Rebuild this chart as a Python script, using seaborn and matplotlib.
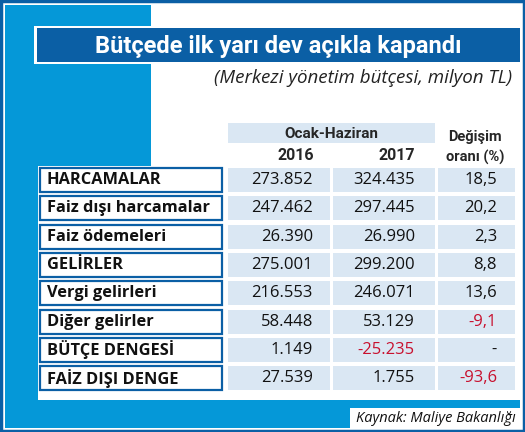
import matplotlib
matplotlib.use("Agg")
import matplotlib.pyplot as plt
import matplotlib.patches as mpatches
import seaborn as sns

title = "Bütçede ilk yarı dev açıkla kapandı"
subtitle = "(Merkezi yönetim bütçesi, milyon TL)"
source = "Kaynak: Maliye Bakanlığı"
row_labels = ["HARCAMALAR", "Faiz dışı harcamalar", "Faiz ödemeleri", "GELİRLER",
              "Vergi gelirleri", "Diğer gelirler", "BÜTÇE DENGESİ", "FAİZ DIŞI DENGE"]
values_2016 = ["273.852", "247.462", "26.390", "275.001", "216.553", "58.448", "1.149", "27.539"]
values_2017 = ["324.435", "297.445", "26.990", "299.200", "246.071", "53.129", "-25.235", "1.755"]
change_pct = ["18,5", "20,2", "2,3", "8,8", "13,6", "-9,1", "-", "-93,6"]

sns.set_theme(style="white")
plt.rcParams['font.family'] = ['Open Sans', 'DejaVu Sans']
narrow = ['Roboto', 'DejaVu Sans']

DARK = "#0b5fa5"
LIGHT = "#0598d8"
CELL = "#dae7f3"
RED = "#c8102e"

fig = plt.figure(figsize=(5.25, 4.32), dpi=100)
ax = fig.add_axes([0, 0, 1, 1])
ax.set_xlim(0, 525)
ax.set_ylim(432, 0)
ax.axis("off")

def rect(x0, y0, x1, y1, **kw):
    ax.add_patch(mpatches.Rectangle((x0, y0), x1 - x0, y1 - y0, **kw))

rect(1, 1, 524, 431, facecolor="white", edgecolor=DARK, linewidth=2.5)
rect(5, 5, 520, 428, facecolor=LIGHT, edgecolor="none")
rect(151, 5, 520, 400, facecolor="white", edgecolor="none")
rect(38, 166, 151, 400, facecolor="white", edgecolor="none")

# title bar
rect(34, 26, 520, 64, facecolor="white", edgecolor="none")
rect(37, 28, 520, 62, facecolor=DARK, edgecolor="none")
ax.text(278, 46, title, color="white", fontsize=17, fontweight="bold",
        family=narrow, ha="center", va="center")
ax.text(512, 78, subtitle, fontsize=13.5, style="italic", ha="right", va="center", color="#222222")

# header
rect(228, 123, 435, 143, facecolor=CELL, edgecolor="none")
ax.text(331, 134, "Ocak-Haziran", fontsize=11, fontweight="bold", family=narrow, ha="center", va="center")
ax.text(314, 155, "2016", fontsize=11.5, fontweight="bold", family=narrow, ha="right", va="center")
ax.text(415, 155, "2017", fontsize=11.5, fontweight="bold", family=narrow, ha="right", va="center")
ax.text(475, 137, "Değişim", fontsize=10.5, fontweight="bold", family=narrow, ha="center", va="center")
ax.text(475, 157, "oranı (%)", fontsize=10.5, fontweight="bold", family=narrow, ha="center", va="center")

for i, lab in enumerate(row_labels):
    yc = 180 + i * 28.3
    y0, y1 = yc - 12, yc + 12
    rect(40, y0, 222, y1, facecolor="white", edgecolor=DARK, linewidth=1.6)
    ax.text(47, yc, lab, fontsize=11.8, fontweight="bold", ha="left", va="center", color="#111111")
    rect(228, y0, 330, y1, facecolor=CELL, edgecolor="none")
    rect(333, y0, 435, y1, facecolor=CELL, edgecolor="none")
    rect(438, y0, 515, y1, facecolor=CELL, edgecolor="none")
    for x, v in [(313, values_2016[i]), (415, values_2017[i]), (497, change_pct[i])]:
        col = RED if v.startswith("-") and len(v) > 1 else "#111111"
        ax.text(x, yc, v, fontsize=12, ha="right", va="center", color=col)

rect(350, 408, 520, 428, facecolor="white", edgecolor="none")
ax.text(516, 418, source, fontsize=10.5, style="italic", ha="right", va="center", color="#111111")

fig.savefig("out.png", dpi=100)
